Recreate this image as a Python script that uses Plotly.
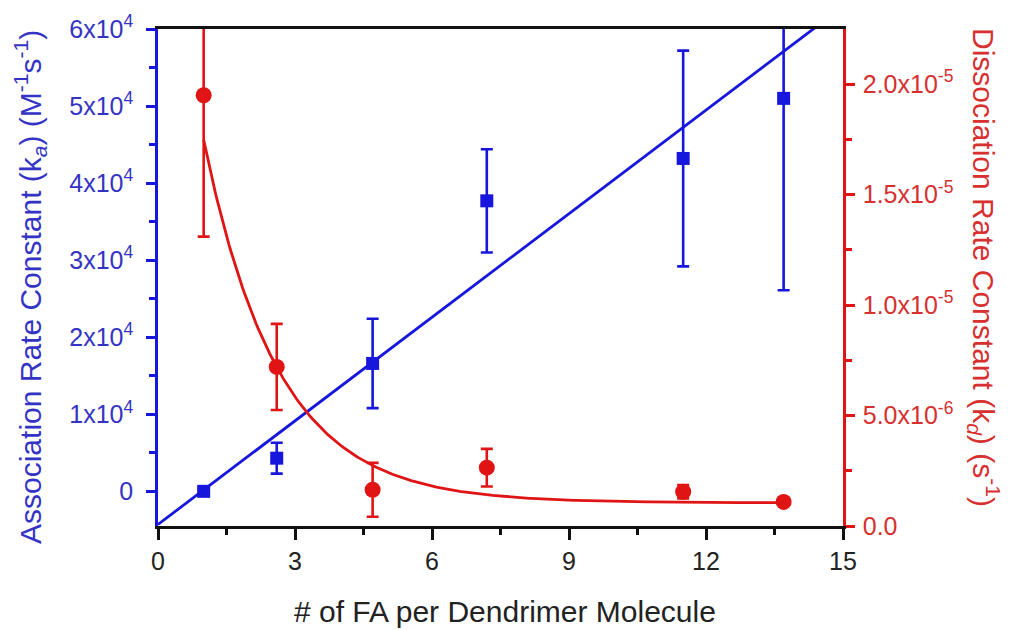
import numpy as np
import plotly.graph_objects as go

# ---------------- data ----------------
fa_per_dendrimer = [1.0, 2.6, 4.7, 7.2, 11.5, 13.7]

ka_values = [0, 4300, 16600, 37700, 43200, 51000]
ka_errors = [300, 2000, 5800, 6700, 14000, 24900]

kd_values = [1.95e-5, 7.2e-6, 1.64e-6, 2.64e-6, 1.55e-6, 1.09e-6]
kd_errors = [6.4e-6, 1.95e-6, 1.22e-6, 0.85e-6, 0.3e-6, 0.0]

# fitted models shown in the figure
ka_fit_intercept = -4300.0
ka_fit_slope = 4481.0
kd_fit_offset = 1.05e-6
kd_fit_amplitude = 3.04e-5
kd_fit_tau = 1.626

x_ticks = [0, 3, 6, 9, 12, 15]
x_minor = [1.5, 4.5, 7.5, 10.5, 13.5]
ka_ticks = [0, 10000, 20000, 30000, 40000, 50000, 60000]
ka_ticktext = ["0", "1x10<sup>4</sup>", "2x10<sup>4</sup>", "3x10<sup>4</sup>",
               "4x10<sup>4</sup>", "5x10<sup>4</sup>", "6x10<sup>4</sup>"]
ka_minor = [5000, 15000, 25000, 35000, 45000, 55000]
kd_ticks = [0, 5e-6, 1e-5, 1.5e-5, 2e-5]
kd_ticktext = ["0.0", "5.0x10<sup>-6</sup>", "1.0x10<sup>-5</sup>",
               "1.5x10<sup>-5</sup>", "2.0x10<sup>-5</sup>"]
kd_minor = [2.5e-6, 7.5e-6, 1.25e-5, 1.75e-5]

# ---------------- styling ----------------
BLUE = "#1616dc"
BLUE_TXT = "#3434c4"
RED = "#e01414"
RED_TXT = "#d63030"
FONT = "Liberation Sans, Arial, sans-serif"

xs_line = np.linspace(0, 15, 200)
ka_line = ka_fit_intercept + ka_fit_slope * xs_line
xs_curve = np.linspace(fa_per_dendrimer[0], fa_per_dendrimer[-1], 300)
kd_curve = kd_fit_offset + kd_fit_amplitude * np.exp(-xs_curve / kd_fit_tau)

fig = go.Figure()

fig.add_trace(go.Scatter(x=xs_curve, y=kd_curve, mode="lines",
                         line=dict(color=RED, width=2.8), yaxis="y2",
                         showlegend=False, hoverinfo="skip"))
fig.add_trace(go.Scatter(x=fa_per_dendrimer, y=kd_values, mode="markers",
                         marker=dict(symbol="circle", size=16, color=RED),
                         error_y=dict(type="data", array=kd_errors, visible=True,
                                      color=RED, thickness=2.6, width=6),
                         yaxis="y2", showlegend=False))
fig.add_trace(go.Scatter(x=xs_line, y=ka_line, mode="lines",
                         line=dict(color=BLUE, width=2.8), yaxis="y",
                         showlegend=False, hoverinfo="skip"))
fig.add_trace(go.Scatter(x=fa_per_dendrimer, y=ka_values, mode="markers",
                         marker=dict(symbol="square", size=13, color=BLUE),
                         error_y=dict(type="data", array=ka_errors, visible=True,
                                      color=BLUE, thickness=2.6, width=6),
                         yaxis="y", showlegend=False))

L, R, T, B = 158, 173, 29, 104
W, H = 1016, 630
pw, ph = W - L - R, H - T - B

def px_to_paper_x(px):
    return (px - L) / pw

def px_to_paper_y(py):
    return (H - B - py) / ph

fig.update_layout(
    width=W, height=H,
    margin=dict(l=L, r=R, t=T, b=B),
    paper_bgcolor="white", plot_bgcolor="white",
    font=dict(family=FONT, size=25, color="#222222"),
    xaxis=dict(range=[0, 15], tickmode="array", tickvals=x_ticks,
               ticktext=[str(v) for v in x_ticks],
               ticks="outside", ticklen=11, tickwidth=2.5, tickcolor="#111111",
               showline=True, linecolor="#111111", linewidth=2.5, mirror=True,
               showgrid=False, zeroline=False,
               tickfont=dict(size=25, color="#222222"),
               minor=dict(tickmode="array", tickvals=x_minor, ticks="outside",
                          ticklen=6, tickwidth=2.5, tickcolor="#111111",
                          showgrid=False)),
    yaxis=dict(range=[-4500, 60000], tickmode="array", tickvals=ka_ticks,
               ticktext=ka_ticktext,
               ticks="outside", ticklen=9, tickwidth=2.5, tickcolor=BLUE,
               ticklabelstandoff=8,
               showline=True, linecolor=BLUE, linewidth=2.5,
               showgrid=False, zeroline=False,
               tickfont=dict(size=25, color=BLUE_TXT),
               minor=dict(tickmode="array", tickvals=ka_minor, ticks="outside",
                          ticklen=6, tickwidth=2.5, tickcolor=BLUE,
                          showgrid=False)),
    yaxis2=dict(range=[0, 2.25e-5], overlaying="y", side="right",
                tickmode="array", tickvals=kd_ticks, ticktext=kd_ticktext,
                ticks="outside", ticklen=9, tickwidth=2.5, tickcolor=RED,
                ticklabelstandoff=3,
                showline=True, linecolor=RED, linewidth=2.5,
                showgrid=False, zeroline=False,
                tickfont=dict(size=25, color=RED_TXT),
                minor=dict(tickmode="array", tickvals=kd_minor, ticks="outside",
                           ticklen=6, tickwidth=2.5, tickcolor=RED,
                           showgrid=False)),
    annotations=[
        dict(text="# of FA per Dendrimer Molecule", xref="paper", yref="paper",
             x=px_to_paper_x(505), y=px_to_paper_y(611), xanchor="center",
             yanchor="middle", showarrow=False,
             font=dict(family=FONT, size=30, color="#222222")),
        dict(text="Association Rate Constant (k<sub><i>a</i></sub>) (M<sup>-1</sup>s<sup>-1</sup>)",
             xref="paper", yref="paper", textangle=-90,
             x=px_to_paper_x(30), y=px_to_paper_y(287), xanchor="center",
             yanchor="middle", showarrow=False,
             font=dict(family=FONT, size=30, color=BLUE_TXT)),
        dict(text="Dissociation Rate Constant (k<sub><i>d</i></sub>) (s<sup>-1</sup>)",
             xref="paper", yref="paper", textangle=90,
             x=px_to_paper_x(984), y=px_to_paper_y(268), xanchor="center",
             yanchor="middle", showarrow=False,
             font=dict(family=FONT, size=30, color=RED_TXT)),
    ],
)

fig.write_html("out.html",
               config={"displayModeBar": False},
               post_script="document.body.style.margin='0';"
                           "document.body.style.overflow='hidden';")
